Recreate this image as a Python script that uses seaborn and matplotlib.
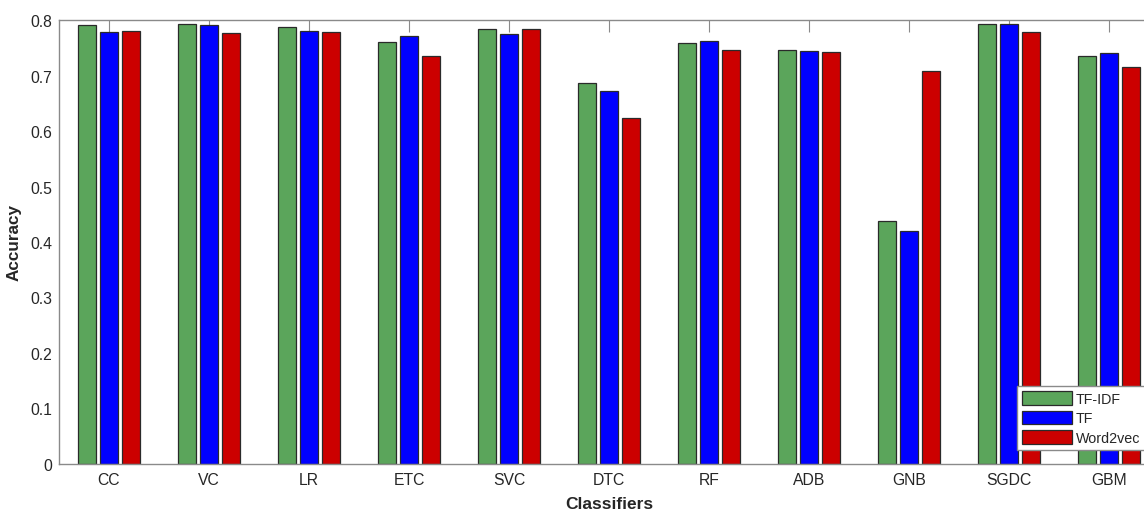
import matplotlib
matplotlib.use("Agg")
import matplotlib.pyplot as plt
import seaborn as sns
import pandas as pd
from matplotlib.patches import Patch

classifiers = ["CC", "VC", "LR", "ETC", "SVC", "DTC", "RF", "ADB", "GNB", "SGDC", "GBM"]
features = ["TF-IDF", "TF", "Word2vec"]
tfidf = [0.791, 0.792, 0.787, 0.761, 0.784, 0.686, 0.758, 0.746, 0.438, 0.792, 0.735]
tf = [0.778, 0.791, 0.780, 0.772, 0.774, 0.672, 0.763, 0.745, 0.419, 0.792, 0.740]
w2v = [0.780, 0.777, 0.779, 0.736, 0.783, 0.623, 0.746, 0.743, 0.708, 0.779, 0.715]
yticks = [0, 0.1, 0.2, 0.3, 0.4, 0.5, 0.6, 0.7, 0.8]

colors = ["#5ba55b", "#0000ff", "#cc0000"]

df = pd.DataFrame({
    "Classifier": classifiers * 3,
    "Feature": [features[0]] * len(classifiers) + [features[1]] * len(classifiers) + [features[2]] * len(classifiers),
    "Accuracy": tfidf + tf + w2v,
})

sns.set_style("white")
plt.rcParams["font.family"] = ["Liberation Sans", "DejaVu Sans"]

fig = plt.figure(figsize=(11.44, 5.10), dpi=100)
ax = fig.add_axes([59 / 1144, 1 - 465 / 510, 1100 / 1144, 444 / 510])

sns.barplot(data=df, x="Classifier", y="Accuracy", hue="Feature", order=classifiers,
            hue_order=features, palette=colors, width=0.66,
            edgecolor="#2a2a2a", linewidth=0.9, saturation=1, errorbar=None,
            legend=False, ax=ax)

# narrow each bar to leave a small gap between neighbours (as in the reference)
bar_w = 0.18
for p in ax.patches:
    cx = p.get_x() + p.get_width() / 2
    p.set_width(bar_w)
    p.set_x(cx - bar_w / 2)

ax.set_xlim(-0.5, 10.5)
ax.set_ylim(0, 0.8)
ax.set_yticks(yticks)
ax.set_yticklabels(["0" if v == 0 else f"{v:.1f}" for v in yticks])

for s in ax.spines.values():
    s.set_visible(True)
    s.set_color("#8a8a8a")
    s.set_linewidth(1.0)

ax.tick_params(axis="both", direction="in", length=8.4, width=0.8, color="#8a8a8a",
               labelsize=11.3, labelcolor="#262626", top=True, right=True)
ax.tick_params(axis="x", pad=6)
ax.tick_params(axis="y", pad=5)

ax.set_xlabel("Classifiers", fontsize=12.5, fontweight="bold", color="#262626", labelpad=6)
ax.set_ylabel("Accuracy", fontsize=12.3, fontweight="bold", color="#262626", labelpad=6)

handles = [Patch(facecolor=c, edgecolor="#2a2a2a", linewidth=0.9) for c in colors]
leg = ax.legend(handles, features, loc="upper left", bbox_to_anchor=(1017 / 1144, 1 - 387 / 510),
                bbox_transform=fig.transFigure, fontsize=10.3, frameon=True, fancybox=False,
                framealpha=1, borderpad=0.36, labelspacing=0.34, handlelength=3.45, handleheight=1.08,
                handletextpad=0.29, borderaxespad=0)
leg.get_frame().set_edgecolor("#8a8a8a")
leg.get_frame().set_linewidth(1.0)
leg.get_frame().set_facecolor("white")
for t in leg.get_texts():
    t.set_color("#262626")

fig.savefig("out.png", dpi=100)
